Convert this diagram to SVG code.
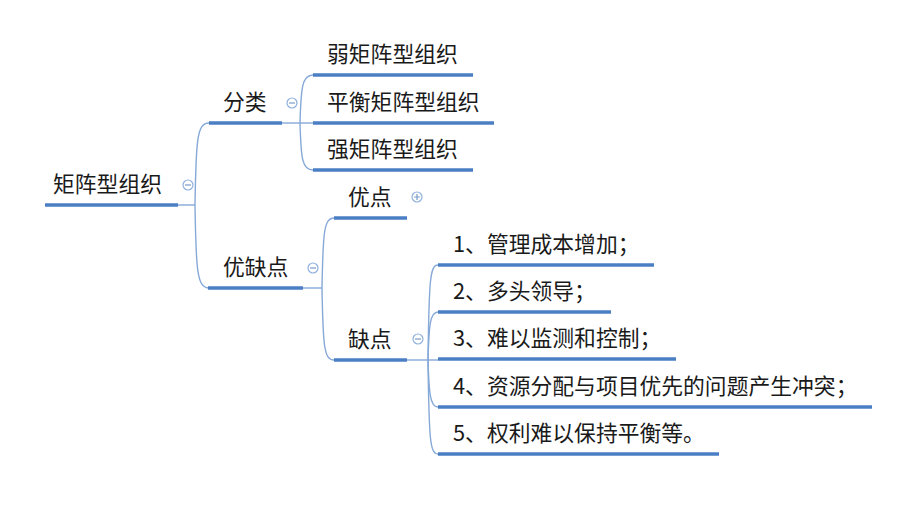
<svg xmlns="http://www.w3.org/2000/svg" width="924" height="531" viewBox="0 0 924 531">
<style>
text{font-family:"Noto Sans CJK SC","Microsoft YaHei",sans-serif;font-size:21.8px;fill:#1a1a1a}
.ul{stroke:#4a7fc4;stroke-width:3.5;fill:none}
.cn{stroke:#86a9d8;stroke-width:1.4;fill:none}
.tg circle{fill:#fff;stroke:#8fb0dc;stroke-width:1.2}
.tg path{stroke:#7a9ccc;stroke-width:1.2;fill:none}
</style>
<rect width="924" height="531" fill="#fff"/>
<g id="connectors">
<path class="cn" d="M178 205 H195"/>
<path class="cn" d="M195 205 C196 140 197 123 209 123"/>
<path class="cn" d="M195 205 C196 270 197 288 209 288"/>
<path class="cn" d="M282 123 H313"/>
<path class="cn" d="M300 123 C301 88 302 75 313 75"/>
<path class="cn" d="M300 123 C301 158 302 170 313 170"/>
<path class="cn" d="M303 288 H322"/>
<path class="cn" d="M322 288 C323 232 324 218 334 218"/>
<path class="cn" d="M322 288 C323 346 324 360 334 360"/>
<path class="cn" d="M407 360 H438"/>
<path class="cn" d="M428 360 C429 280 430 265 438 265"/>
<path class="cn" d="M428 360 C429 325 430 312 438 312"/>
<path class="cn" d="M428 360 C429 393 430 407 438 407"/>
<path class="cn" d="M428 360 C429 440 430 454 438 454"/>
</g>
<g id="root">
<text x="53" y="192">矩阵型组织</text>
<path class="ul" d="M45 205 H178"/>
<g class="tg"><circle cx="188" cy="185" r="5"/><path d="M185 185 H191"/></g>
</g>
<g id="fenlei">
<text x="223" y="110">分类</text>
<path class="ul" d="M209 123 H282"/>
<g class="tg"><circle cx="292" cy="103" r="5"/><path d="M289 103 H295"/></g>
</g>
<g id="ruo">
<text x="327" y="62">弱矩阵型组织</text>
<path class="ul" d="M313 75 H473"/>
</g>
<g id="pingheng">
<text x="327" y="110">平衡矩阵型组织</text>
<path class="ul" d="M313 123 H494"/>
</g>
<g id="qiang">
<text x="327" y="157">强矩阵型组织</text>
<path class="ul" d="M313 170 H473"/>
</g>
<g id="youquedian">
<text x="223" y="275">优缺点</text>
<path class="ul" d="M208 288 H303"/>
<g class="tg"><circle cx="313" cy="268" r="5"/><path d="M310 268 H316"/></g>
</g>
<g id="youdian">
<text x="348" y="205">优点</text>
<path class="ul" d="M334 218 H407"/>
<g class="tg"><circle cx="417" cy="197" r="5"/><path d="M414 197 H420 M417 194 V200"/></g>
</g>
<g id="quedian">
<text x="348" y="347">缺点</text>
<path class="ul" d="M334 360 H407"/>
<g class="tg"><circle cx="418" cy="339" r="5"/><path d="M415 339 H421"/></g>
</g>
<g id="q1">
<text x="453" y="252">1、管理成本增加；</text>
<path class="ul" d="M438 265 H654"/>
</g>
<g id="q2">
<text x="453" y="299">2、多头领导；</text>
<path class="ul" d="M438 312 H611"/>
</g>
<g id="q3">
<text x="453" y="346">3、难以监测和控制；</text>
<path class="ul" d="M438 359 H676"/>
</g>
<g id="q4">
<text x="453" y="394">4、资源分配与项目优先的问题产生冲突；</text>
<path class="ul" d="M438 407 H872"/>
</g>
<g id="q5">
<text x="453" y="441">5、权利难以保持平衡等。</text>
<path class="ul" d="M438 454 H719"/>
</g>
</svg>
